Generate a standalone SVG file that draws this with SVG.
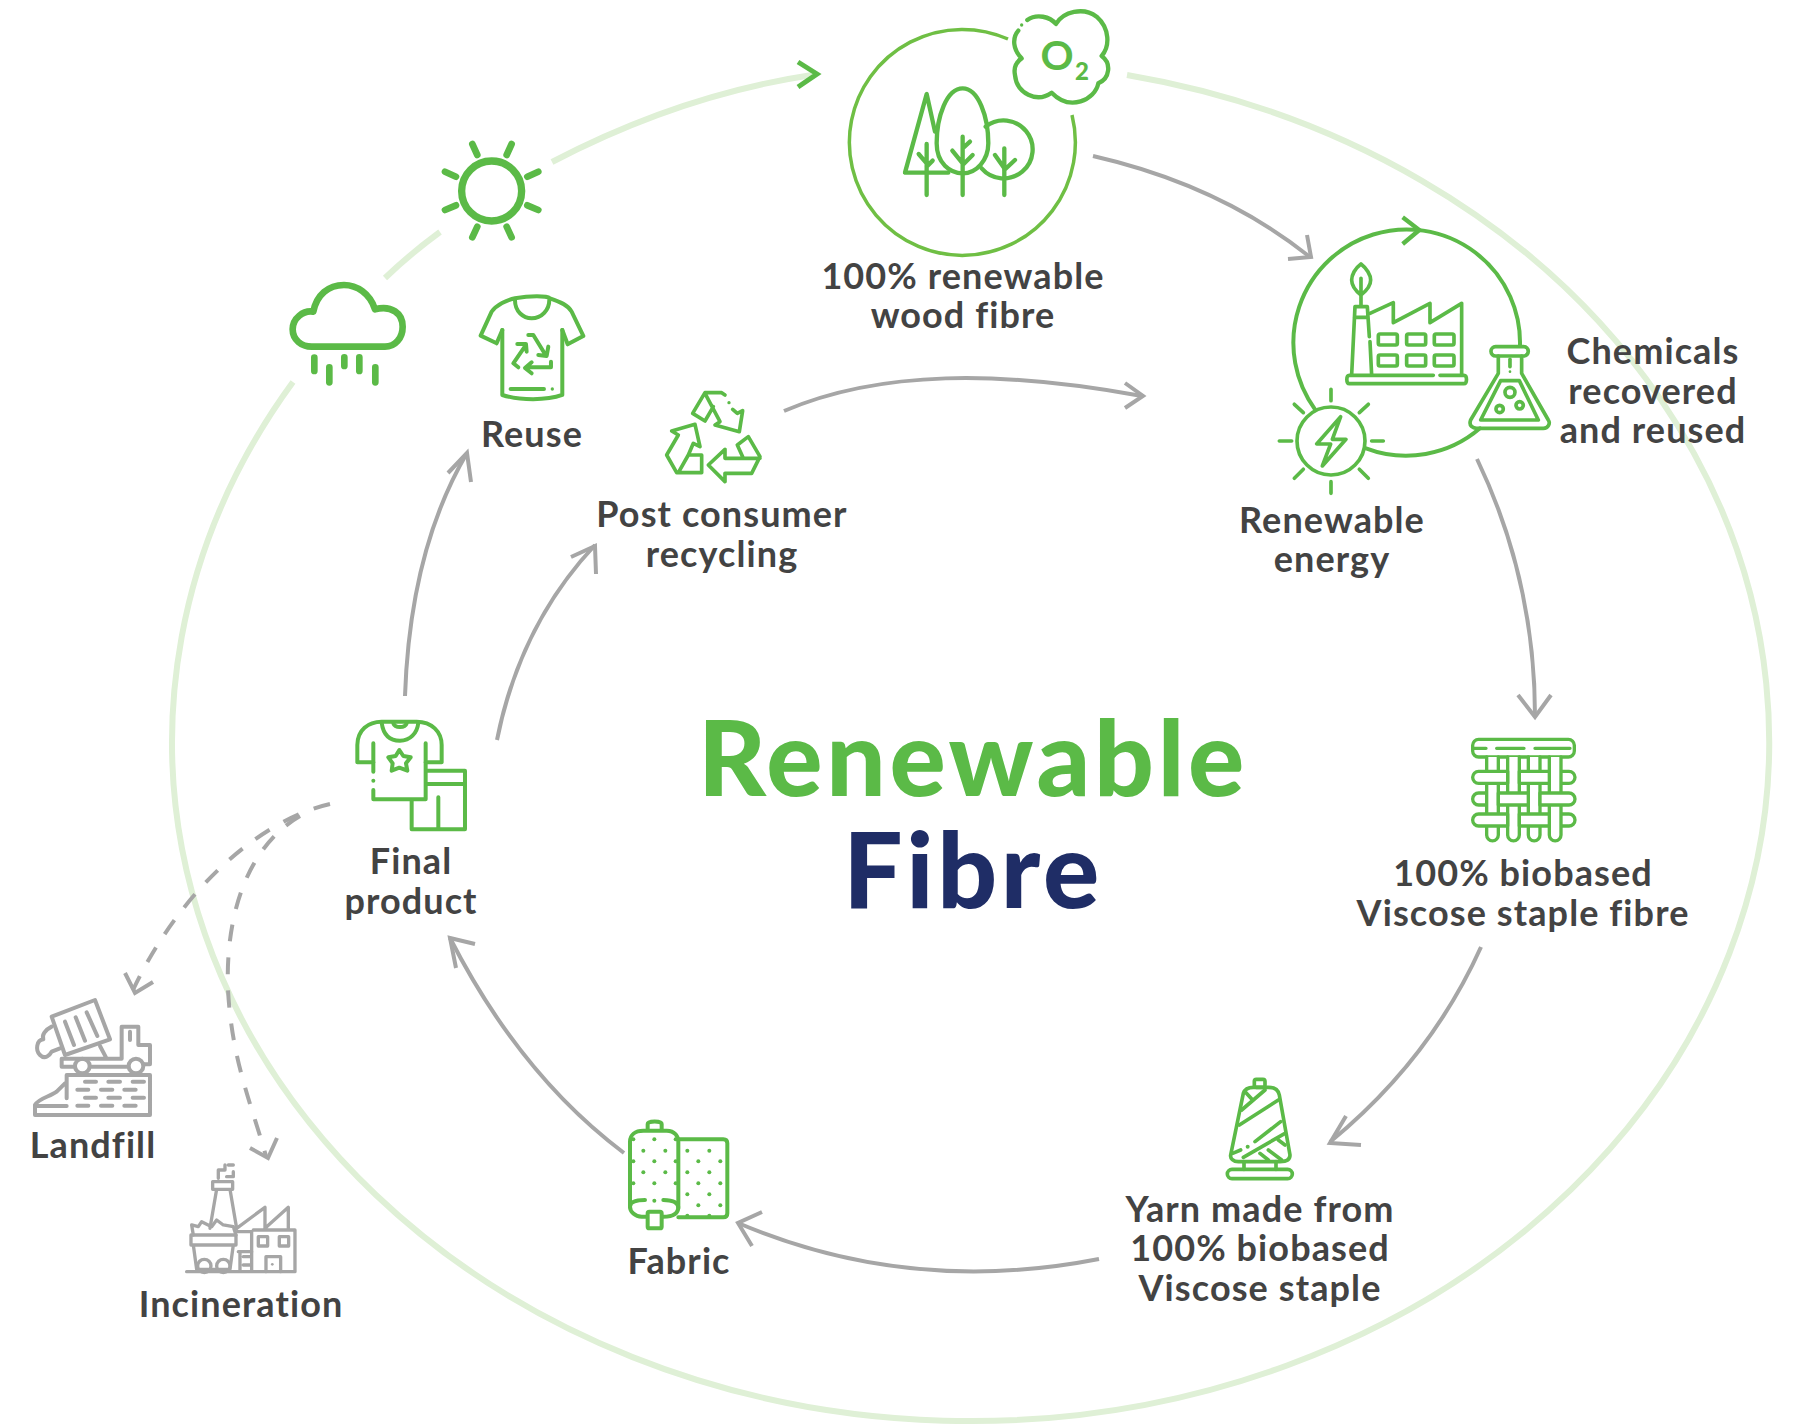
<svg xmlns="http://www.w3.org/2000/svg" width="1800" height="1427" viewBox="0 0 1800 1427">
<defs>
<style>
text{font-family:"Lato","Liberation Sans",sans-serif;font-weight:700;text-anchor:middle}
.l{font-size:36px;fill:#434343;letter-spacing:1.1px}
.t{font-size:105px;font-weight:900;letter-spacing:3.7px}
.g,.g *{fill:none;stroke:#5bba47;stroke-linecap:round;stroke-linejoin:round}
.y,.y *{fill:none;stroke:#a6a6a6;stroke-linecap:round;stroke-linejoin:round}
.w{fill:#fff!important}
.d{fill:#5bba47!important;stroke:none!important}
.e{fill:#a6a6a6!important;stroke:none!important}
.ring{fill:none;stroke:#dff0d6;stroke-width:6}
.c{fill:none;stroke:#a6a6a6;stroke-width:4}
.m{stroke-linejoin:miter!important;stroke-linecap:butt!important}
</style>
</defs>
<rect width="1800" height="1427" fill="#fff"/>
<g id="connectors">
<path class="ring" d="M1127,75 A798.5 679.6 0 1 1 293,382"/>
<path class="ring" d="M385,278 Q410,254 440,232"/>
<path class="ring" d="M552,162 Q680,95 812,75"/>
<path d="M798,62 L817,74 L798,87" fill="none" stroke="#5bba47" stroke-width="5"/>
<g class="c">
<path d="M1093,156 Q1220,185 1310,257"/><path d="M1288,259 L1311,257 L1307,235"/>
<path d="M1477,459 Q1535,580 1535,716"/><path d="M1518,695 L1535,717 L1551,695"/>
<path d="M1481,947 Q1430,1060 1330,1142"/><path d="M1346,1116 L1330,1143 L1361,1145"/>
<path d="M1099,1259 Q910,1296 738,1223"/><path d="M762,1212 L738,1223 L752,1246"/>
<path d="M624,1153 Q520,1075 450,938"/><path d="M475,944 L450,938 L456,968"/>
<path d="M405,696 Q410,550 467,453"/><path d="M448,473 L467,453 L471,482"/>
<path d="M497,740 Q520,625 595,545"/><path d="M571,557 L595,546 L596,574"/>
<path d="M784,411 C880,370 1000,370 1142,396"/><path d="M1125,383 L1143,396 L1125,408"/>
<path d="M330,804 C260,820 180,890 133,990" stroke-dasharray="17 16"/><path d="M125,973 L135,993 L153,982"/>
<path d="M300,816 C250,845 225,910 228,990 C232,1060 250,1100 266,1156" stroke-dasharray="17 16"/><path d="M250,1148 L268,1158 L277,1138"/>
</g>
</g>
<g id="title">
<text class="t" x="973" y="796" style="fill:#5bba47">Renewable</text>
<text class="t" x="973" y="908" style="fill:#1f2d66">Fibre</text>
</g>
<g id="wood-fibre">
<path d="M1072,115 A113 113 0 1 1 1008,39" fill="none" stroke="#6fbf44" stroke-width="3.5"/>
<g class="g" transform="translate(820,0) scale(.3333)" stroke-width="13">
<path d="M622,60 C650,40 690,50 708,72 C730,35 790,20 830,50 C870,85 870,140 845,168 C875,190 870,235 835,250 C825,300 750,335 695,278 C650,310 590,280 585,225 C580,200 590,185 605,175 C580,150 575,115 595,92"/>
<circle class="d" cx="605" cy="75" r="5"/>
<path d="M345,395 L320,282 L255,518 L385,518"/><path d="M320,432 V585 M296,462 L320,490 M338,482 L320,500"/>
<path d="M428,265 C380,265 350,350 350,430 C350,490 390,520 428,520 C470,520 505,480 505,430 C505,350 475,265 428,265 Z"/><path d="M428,410 V585 M397,452 L428,490 M458,465 L428,495 M450,425 L428,445"/>
<path d="M497,380 A87 87 0 1 1 485,505"/><path d="M553,445 V585 M525,465 L553,505 M585,480 L553,510"/>
</g>
<text x="1057" y="70" font-size="41" style="fill:#5bba47">O</text>
<text x="1082" y="80" font-size="24" style="fill:#5bba47;font-weight:900">2</text>
<text class="l" x="963" y="289">100% renewable</text>
<text class="l" x="963" y="328">wood fibre</text>
</g>
<g id="renewable-energy">
<g class="g" transform="translate(1260,210) scale(.3333)" stroke-width="11">
<path stroke-width="12" d="M780,408 A340 340 0 1 0 165,598 M318,715 A340 340 0 0 0 660,655"/>
<path class="m" stroke-width="13" d="M428,22 L478,60 L428,102"/>
<path d="M275,495 L285,290 H322 L328,380 M330,395 L335,495 M283,322 H322"/>
<path d="M303,162 C285,175 275,195 275,210 C275,230 290,245 303,255 C316,245 332,230 332,210 C332,195 320,175 303,162Z M303,205 V285"/>
<path d="M330,310 L400,278 V338 L510,280 V338 L605,280 V495"/>
<rect x="355" y="372" width="57" height="33" rx="5"/><rect x="440" y="372" width="57" height="33" rx="5"/><rect x="523" y="372" width="59" height="33" rx="5"/>
<rect x="355" y="435" width="57" height="33" rx="5"/><rect x="440" y="435" width="57" height="33" rx="5"/><rect x="523" y="435" width="59" height="33" rx="5"/>
<path d="M520,496 H268 C258,496 258,521 268,521 H612 C622,521 622,496 612,496 H540"/>
<rect x="693" y="410" width="112" height="28" rx="14"/>
<path d="M715,438 V490 L632,630 C625,648 640,655 650,655 H850 C865,655 872,640 865,630 L785,490 V438"/>
<path d="M722,512 H778 L835,630 H662 Z"/>
<circle cx="750" cy="547" r="15"/><circle cx="719" cy="597" r="11"/><circle cx="779" cy="586" r="11"/>
<path d="M750,448 V470"/><circle class="d" cx="750" cy="485" r="4"/>
<circle cx="213" cy="693" r="102"/>
<path d="M213,538 V572 M213,815 V850 M58,693 H95 M335,693 H370 M103,583 L130,608 M325,583 L298,608 M103,805 L130,778 M325,805 L298,778"/>
<path d="M242,620 L170,702 H212 L187,768 L258,688 H217 Z"/>
</g>
<text class="l" x="1332" y="533">Renewable</text>
<text class="l" x="1332" y="572">energy</text>
<text class="l" x="1653" y="364">Chemicals</text>
<text class="l" x="1653" y="404">recovered</text>
<text class="l" x="1653" y="443">and reused</text>
</g>
<g id="sun">
<g class="g" transform="translate(270,130) scale(.3333)" stroke-width="20">
<circle cx="665" cy="183" r="90" stroke-width="22"/>
<path d="M607,42 L622,75 M725,42 L710,75 M525,125 L558,140 M805,125 L772,140 M525,240 L558,226 M805,240 L772,226 M607,322 L622,290 M725,322 L710,290"/>
</g>
</g>
<g id="rain">
<g class="g" transform="translate(270,130) scale(.3333)" stroke-width="20">
<path d="M130,545 C100,540 68,565 68,598 C68,630 95,650 125,650 H345 C375,650 398,625 398,590 C398,550 365,525 315,538 C300,490 260,465 222,465 C175,465 140,495 130,545 Z"/>
<path d="M133,683 V723 M178,712 V757 M223,682 V708 M268,682 V723 M316,712 V757"/>
</g>
</g>
<g id="reuse">
<g class="g" transform="translate(270,130) scale(.3333)" stroke-width="12">
<path d="M697,600 V795 C750,812 830,812 877,795 V600"/>
<path d="M697,600 L680,640 L632,617 L665,545 C680,525 710,510 735,505 C780,497 830,497 840,505 C870,515 895,525 905,545 L940,618 L893,643 L877,600"/>
<path d="M735,510 C735,545 760,565 785,565 C815,565 838,540 838,510"/>
<path d="M745,712 L730,700 L768,645 M742,642 L768,642 L770,665"/>
<path d="M775,615 L790,615 L825,672 M835,650 L830,678 L805,675"/>
<path d="M843,695 V712 H770 M785,697 L765,714 L785,730"/>
<path d="M722,777 H822"/><circle class="d" cx="847" cy="777" r="5"/>
</g>
<text class="l" x="532" y="447">Reuse</text>
</g>
<g id="post-consumer-recycling">
<g class="g" transform="translate(650,380) scale(.3333)" stroke-width="11">
<path d="M225,45 L215,38 H165 L128,100 L165,123 L190,80 M165,40 L210,125 L195,135 L268,155 L278,92 L262,100 L248,88"/><circle class="d" cx="237" cy="68" r="5"/>
<path d="M135,133 L65,153 L85,165 L50,225 L80,278 H155 V225 H115 L85,278 M115,225 L130,190 L150,200 L135,133"/>
<path d="M262,195 L295,170 L330,230 L305,280 H225 V305 L175,255 L225,208 V235 H330 M262,195 L280,235"/>
</g>
<text class="l" x="722" y="527">Post consumer</text>
<text class="l" x="722" y="567">recycling</text>
</g>
<g id="final-product">
<g class="g" transform="translate(340,710) scale(.3333)" stroke-width="12">
<path d="M100,100 V185 M100,240 V268 H257 V100"/><circle class="d" cx="100" cy="212" r="6"/>
<path d="M100,157 H52 V105 C52,60 85,35 125,35 H230 C275,35 305,65 305,105 V157 H257"/>
<path d="M125,38 C130,75 150,92 180,92 C210,92 232,70 235,38 M160,40 C165,55 195,55 200,40"/>
<path d="M178,120 L190,138 L212,142 L198,160 L202,182 L178,173 L155,182 L158,160 L145,142 L167,138 Z"/>
<path d="M262,182 H375 V358 H215 V270 M262,222 H375 M295,262 V358"/>
</g>
<text class="l" x="411" y="874">Final</text>
<text class="l" x="411" y="914">product</text>
</g>
<g id="landfill">
<g class="y" transform="translate(20,980) scale(.3333)" stroke-width="12">
<path d="M95,110 L225,60 L270,178 L135,225 Z"/>
<path d="M135,125 L162,195 M167,112 L195,182 M200,97 L232,168"/>
<path d="M95,140 C75,150 65,165 70,178 C50,180 45,210 60,225 C75,240 90,225 95,215 L120,205"/>
<path d="M240,198 L258,232 M125,236 H305 V140 H355 V195 H390 V253 H370 M325,260 H210 M165,260 H125 V236 M330,155 V180"/>
<circle cx="187" cy="258" r="22"/><circle cx="348" cy="258" r="22"/>
<path d="M140,355 V285 H390 V405 H45 V375 C55,355 90,350 110,335 L135,310 M45,378 H140"/>
<path d="M195,305 H228 M265,305 H300 M338,305 H372 M172,329 H205 M243,329 H277 M313,329 H347 M195,353 H228 M265,353 H300 M338,353 H372 M172,377 H205 M243,377 H277 M313,377 H347"/>
</g>
<text class="l" x="93" y="1158">Landfill</text>
</g>
<g id="incineration">
<g class="y" transform="translate(20,980) scale(.3333)" stroke-width="10">
<path d="M570,745 L590,628 H630 L650,745 M578,605 H638 V628 H578Z"/>
<path d="M595,595 V570 H615 V555 M620,590 H640 V575 M625,555 H640"/>
<path d="M513,765 H648 V795 H513 Z M520,795 L530,868 H630 L640,795"/>
<circle cx="553" cy="858" r="20"/><circle cx="610" cy="858" r="20"/>
<path d="M520,765 L515,735 L535,740 L545,725 L575,740 L590,720 L610,735 L640,740 L648,765"/>
<path d="M650,755 H695 V875 M700,750 H825 V875 H500 M650,745 L735,682 V745 M735,745 L805,682 V745"/>
<rect x="715" y="770" width="28" height="28"/><rect x="778" y="770" width="28" height="28"/>
<path d="M738,875 V830 H782 V875 M655,815 H695 M660,815 V870 M670,830 H690 M670,855 H690"/><circle class="e" cx="757" cy="853" r="4"/>
</g>
<text class="l" x="241" y="1317">Incineration</text>
</g>
<g id="fabric">
<g class="g" transform="translate(610,1100) scale(.3333)" stroke-width="12">
<path d="M205,118 H340 C350,118 352,125 352,130 V340 C352,350 345,352 340,352 H205"/>
<path d="M113,90 V72 C113,62 155,62 155,72 V90"/>
<path d="M100,92 H170 C195,92 205,110 205,125 V320 C205,340 190,350 160,350 H95 C75,350 60,335 60,320 V125 C60,105 75,92 100,92Z"/>
<path d="M60,320 C60,305 80,300 105,300 M160,300 C190,300 205,310 205,325"/>
<rect class="w" x="113" y="335" width="42" height="50" rx="5"/>
<g class="dots">
<circle class="d" cx="70" cy="118" r="6"/><circle class="d" cx="133" cy="118" r="6"/><circle class="d" cx="197" cy="118" r="6"/><circle class="d" cx="100" cy="152" r="6"/><circle class="d" cx="166" cy="152" r="6"/><circle class="d" cx="70" cy="184" r="6"/><circle class="d" cx="133" cy="184" r="6"/><circle class="d" cx="197" cy="184" r="6"/><circle class="d" cx="100" cy="217" r="6"/><circle class="d" cx="166" cy="217" r="6"/><circle class="d" cx="70" cy="250" r="6"/><circle class="d" cx="133" cy="250" r="6"/><circle class="d" cx="197" cy="250" r="6"/><circle class="d" cx="133" cy="302" r="6"/>
<circle class="d" cx="232" cy="152" r="6"/><circle class="d" cx="298" cy="152" r="6"/><circle class="d" cx="265" cy="184" r="6"/><circle class="d" cx="331" cy="184" r="6"/><circle class="d" cx="232" cy="217" r="6"/><circle class="d" cx="298" cy="217" r="6"/><circle class="d" cx="265" cy="250" r="6"/><circle class="d" cx="331" cy="250" r="6"/><circle class="d" cx="232" cy="283" r="6"/><circle class="d" cx="298" cy="283" r="6"/><circle class="d" cx="265" cy="316" r="6"/><circle class="d" cx="331" cy="316" r="6"/><circle class="d" cx="232" cy="347" r="6"/><circle class="d" cx="298" cy="347" r="6"/>
</g>
</g>
<text class="l" x="679" y="1274">Fabric</text>
</g>
<g id="yarn">
<g class="g" transform="translate(1210,1070) scale(.3333)" stroke-width="11">
<path d="M100,70 C105,55 115,52 130,52 H175 C195,52 205,60 208,75 L240,255 C240,270 225,275 210,275 H85 C70,275 60,265 62,255 Z"/>
<rect x="133" y="28" width="32" height="24" rx="6"/>
<rect x="52" y="298" width="195" height="28" rx="14"/>
<path d="M102,275 V298 M198,275 V298"/>
<path d="M108,68 L128,90 M95,120 L165,60 M88,165 L205,90 M135,215 L212,155 M68,250 L92,240 M100,262 L225,190 M150,250 L175,270 M175,240 L215,270 M205,210 L225,225"/>
<circle class="d" cx="113" cy="230" r="6"/>
</g>
<text class="l" x="1260" y="1222">Yarn made from</text>
<text class="l" x="1260" y="1261">100% biobased</text>
<text class="l" x="1260" y="1301">Viscose staple</text>
</g>
<g id="viscose-fibre">
<g class="g" transform="translate(1460,730) scale(.3333)" stroke-width="10">
<rect class="w" x="38" y="28" width="305" height="53" rx="18"/>
<path d="M42,55 H78 M110,55 H192 M225,55 H330"/>
<path d="M290,124 H327 A18 18 0 0 1 327,160 H290 M100,189 H56 A18 18 0 0 0 56,225 H100 M290,252 H327 A18 18 0 0 1 327,288 H290"/>
<g>
<path class="w" d="M80,81 V315 A17 17 0 0 0 115,315 V81"/><path class="w" d="M143,81 V315 A17 17 0 0 0 178,315 V81"/><path class="w" d="M205,81 V315 A17 17 0 0 0 240,315 V81"/><path class="w" d="M268,81 V315 A17 17 0 0 0 303,315 V81"/>
</g>
<path class="w" d="M143,124 H56 A18 18 0 0 0 56,160 H143 Z"/><rect class="w" x="178" y="124" width="90" height="36"/>
<rect class="w" x="115" y="189" width="90" height="36"/><path class="w" d="M240,189 H327 A18 18 0 0 1 327,225 H240 Z"/>
<path class="w" d="M143,252 H56 A18 18 0 0 0 56,288 H143 Z"/><rect class="w" x="178" y="252" width="90" height="36"/>
</g>
<text class="l" x="1523" y="886">100% biobased</text>
<text class="l" x="1523" y="926">Viscose staple fibre</text>
</g>
</svg>
